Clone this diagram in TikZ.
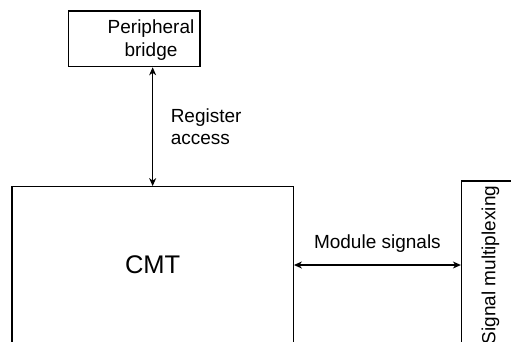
\documentclass[tikz,border=0pt]{standalone}
\usepackage{fontspec}
\setmainfont{Liberation Sans}
\usetikzlibrary{positioning}
\usetikzlibrary{arrows.meta}
\tikzset{
    block diagram/.style={
            x=1pt,y=-1pt,
            font=\fontsize{19}{22.4}\selectfont,
            box/.style={draw,line width=1.2pt,inner sep=0pt},
            link/.style={{Stealth[length=8pt,width=7pt,inset=2.5pt]}-{Stealth[length=8pt,width=7pt,inset=2.5pt]},line width=1.2pt},
            tag/.style={inner sep=0pt,align=left}
        }
    }

\begin{document}
\begin{tikzpicture}[block diagram]
    \useasboundingbox (0,0) rectangle (511,341);
    \clip (0,0) rectangle (511,341);
    \node (cmt) [box,minimum width=281.3pt,minimum height=156.6pt,font=\fontsize{25.5}{30}\selectfont] at (152.65,265) {CMT};
    \node (bridge) [box,minimum width=131.7pt,minimum height=55.7pt] at (134.15,38.85) {};
    \node (bridgetext) [inner sep=0pt,align=center] at (151,40) {Peripheral\\bridge};
    \node (mux) [box,rotate=90,minimum width=168pt,minimum height=58pt] at (490.5,265) {Signal multiplexing};
    \draw [link] (cmt.north |- bridge.south) -- (cmt.north) node [midway,right=17.5pt,tag] {Register\\access};
    \draw [link] (cmt.east) -- (mux.north) node [midway,above=12pt,tag] {Module signals};
\end{tikzpicture}
\end{document}
